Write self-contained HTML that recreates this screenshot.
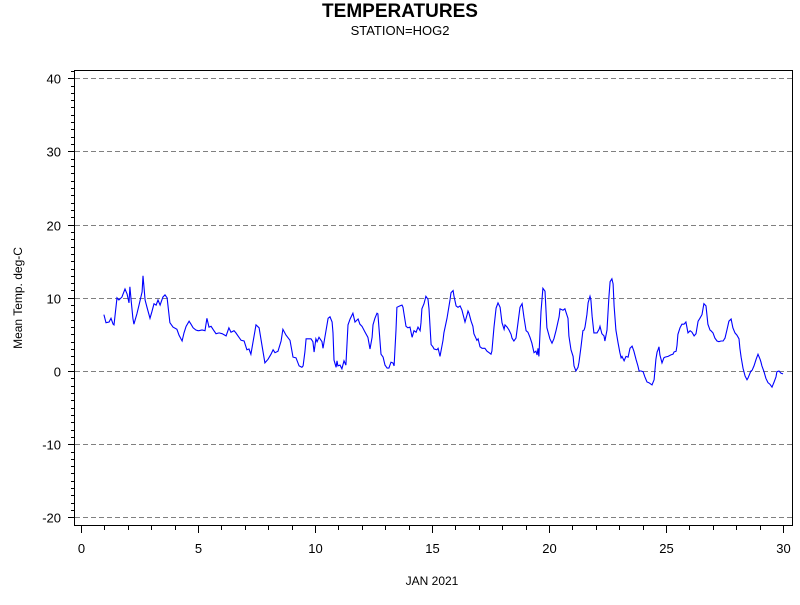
<!DOCTYPE html>
<html><head><meta charset="utf-8"><style>
body{margin:0;background:#fff;font-family:"Liberation Sans",sans-serif}
</style></head><body>
<svg id="chart" width="800" height="600" xmlns="http://www.w3.org/2000/svg">
<rect width="800" height="600" fill="#fff"/>
<text x="400" y="17" text-anchor="middle" font-size="19" font-weight="bold" font-family="Liberation Sans">TEMPERATURES</text>
<text x="400" y="35" text-anchor="middle" font-size="13" font-family="Liberation Sans">STATION=HOG2</text>
<text transform="translate(22,298) rotate(-90)" text-anchor="middle" font-size="12" font-family="Liberation Sans">Mean Temp. deg-C</text>
<text x="432" y="585" text-anchor="middle" font-size="12" font-family="Liberation Sans">JAN 2021</text>
<g id="grid"></g><g id="axes"></g><g id="series"></g>
<rect x="74.5" y="70.5" width="718" height="455" fill="none" stroke="#000"/>
</svg>
<script>
const xTicks=[0,5,10,15,20,25,30];
const yTicks=[-20,-10,0,10,20,30,40];
const days=[0.98,1.07,1.20,1.28,1.37,1.41,1.54,1.62,1.75,1.88,1.97,2.05,2.09,2.14,2.22,2.26,2.39,2.48,2.61,2.65,2.74,2.82,2.95,3.03,3.12,3.21,3.29,3.38,3.50,3.59,3.68,3.80,3.93,4.10,4.19,4.32,4.40,4.49,4.62,4.70,4.79,4.91,5.00,5.04,5.17,5.30,5.38,5.47,5.56,5.64,5.77,5.90,6.03,6.20,6.32,6.41,6.54,6.62,6.71,6.84,6.97,7.09,7.18,7.26,7.48,7.61,7.74,7.86,7.99,8.12,8.21,8.29,8.42,8.55,8.63,8.76,8.93,9.06,9.19,9.32,9.44,9.49,9.57,9.62,9.74,9.83,9.91,9.96,10.04,10.09,10.17,10.30,10.34,10.47,10.56,10.64,10.73,10.77,10.81,10.90,10.94,10.98,11.07,11.15,11.24,11.32,11.41,11.50,11.62,11.71,11.84,11.92,12.01,12.14,12.26,12.35,12.44,12.48,12.56,12.65,12.69,12.82,12.91,12.99,13.08,13.16,13.25,13.33,13.38,13.46,13.50,13.63,13.72,13.76,13.80,13.89,13.97,14.06,14.15,14.23,14.32,14.40,14.49,14.53,14.57,14.66,14.74,14.83,14.87,14.96,15.04,15.09,15.21,15.26,15.34,15.47,15.51,15.64,15.77,15.81,15.90,15.94,16.03,16.11,16.20,16.28,16.32,16.41,16.50,16.54,16.58,16.67,16.75,16.79,16.92,16.97,17.05,17.14,17.26,17.35,17.44,17.52,17.56,17.65,17.74,17.82,17.91,17.99,18.08,18.12,18.21,18.29,18.38,18.42,18.50,18.59,18.68,18.76,18.85,18.93,19.02,19.10,19.19,19.27,19.36,19.44,19.49,19.53,19.57,19.66,19.74,19.83,19.91,20.04,20.13,20.21,20.30,20.43,20.47,20.60,20.68,20.81,20.85,20.94,21.03,21.07,21.15,21.24,21.28,21.37,21.45,21.50,21.54,21.62,21.67,21.75,21.79,21.84,21.92,22.01,22.05,22.14,22.18,22.26,22.35,22.39,22.48,22.56,22.61,22.69,22.74,22.78,22.86,22.95,23.03,23.08,23.12,23.21,23.29,23.38,23.46,23.55,23.63,23.72,23.80,23.85,23.93,24.02,24.10,24.19,24.27,24.36,24.40,24.49,24.57,24.62,24.66,24.70,24.74,24.83,24.91,24.96,25.09,25.21,25.30,25.34,25.43,25.47,25.51,25.60,25.68,25.77,25.85,25.94,26.03,26.11,26.20,26.28,26.37,26.45,26.54,26.58,26.62,26.71,26.79,26.88,26.92,27.01,27.09,27.18,27.26,27.35,27.44,27.52,27.61,27.69,27.78,27.86,27.95,28.03,28.12,28.16,28.21,28.29,28.38,28.46,28.50,28.63,28.68,28.76,28.85,28.93,29.02,29.06,29.10,29.19,29.27,29.36,29.44,29.53,29.57,29.62,29.70,29.74,29.83,29.91,30.00];
const temps=[7.7,6.6,6.7,7.2,6.4,6.3,10.0,9.7,10.1,11.2,10.5,9.3,11.5,9.7,7.2,6.4,7.8,9.0,10.8,13.0,9.7,8.7,7.2,8.1,9.2,9.0,9.7,9.0,10.1,10.4,10.0,6.6,6.0,5.7,4.9,4.1,5.2,6.1,6.8,6.4,5.9,5.6,5.5,5.5,5.6,5.5,7.2,6.0,6.1,5.7,5.1,5.2,5.1,4.8,5.9,5.3,5.5,5.2,4.8,4.2,4.1,2.9,3.0,2.3,6.3,5.9,3.4,1.1,1.6,2.3,2.9,2.5,2.7,4.1,5.7,4.9,4.2,1.9,1.8,0.7,0.5,0.7,2.6,4.4,4.4,4.4,4.0,2.6,4.4,4.0,4.6,4.0,3.1,5.5,7.2,7.4,6.7,5.2,1.5,0.5,1.4,0.7,0.8,0.3,1.4,0.8,6.3,7.1,7.9,6.7,7.1,6.4,6.1,5.3,4.6,3.0,4.6,6.3,7.2,7.9,7.8,2.3,1.9,0.8,0.4,0.4,1.2,1.1,0.7,5.6,8.7,8.9,9.0,8.7,7.9,6.1,5.9,6.0,4.6,5.5,5.3,6.0,5.5,6.6,8.5,9.2,10.2,9.8,8.5,3.6,3.3,3.0,2.9,3.1,2.0,4.2,5.2,7.2,9.7,10.7,11.0,10.2,8.9,8.7,8.9,8.3,7.8,6.7,7.7,8.2,7.9,6.8,6.1,5.1,4.2,4.4,3.3,3.1,3.1,2.7,2.5,2.3,2.7,6.0,8.6,9.3,8.7,6.6,5.7,6.3,6.0,5.6,5.0,4.5,4.1,4.5,6.7,8.7,9.2,7.3,5.5,5.3,4.6,3.8,2.5,2.7,2.2,3.1,2.0,8.1,11.3,10.9,5.9,4.4,3.8,4.4,5.5,7.4,8.5,8.3,8.5,7.2,4.8,2.9,2.0,0.7,0.0,0.5,1.2,3.4,5.5,5.6,6.0,7.7,9.3,10.2,9.7,7.5,5.2,5.2,5.2,5.7,6.1,5.1,4.8,4.1,5.6,10.1,12.2,12.6,11.9,8.9,5.6,3.9,2.5,1.8,2.0,1.4,2.0,1.9,3.1,3.4,2.7,1.6,0.7,0.0,0.0,-0.1,-0.8,-1.5,-1.6,-1.8,-1.9,-1.2,1.6,2.6,2.9,3.3,2.2,1.1,1.8,1.9,2.0,2.2,2.3,2.6,2.7,3.5,5.0,5.9,6.4,6.4,6.7,5.2,5.5,5.3,4.8,5.1,6.8,7.2,7.7,8.5,9.2,8.9,6.4,5.6,5.5,5.2,4.5,4.1,4.0,4.1,4.1,4.5,5.7,6.8,7.1,5.9,5.2,4.9,4.4,3.1,1.9,0.4,-0.7,-1.2,-1.0,0.0,0.1,0.7,1.6,2.3,1.6,1.2,0.7,-0.1,-1.0,-1.6,-1.8,-2.2,-1.9,-1.5,-0.8,-0.1,0.0,-0.3,-0.4,-1.0];
const NS='http://www.w3.org/2000/svg';
const X=d=>81+d*23.4;
const Y=t=>371-t*7.32;
function mk(tag,attrs,parent){const e=document.createElementNS(NS,tag);for(const k in attrs)e.setAttribute(k,attrs[k]);parent.appendChild(e);return e;}
const grid=document.getElementById('grid'),axes=document.getElementById('axes'),series=document.getElementById('series');
yTicks.forEach(v=>{
  const y=Math.round(Y(v))+0.5;
  const g=mk('line',{x1:75,x2:792,y1:y,y2:y,stroke:'#808080','stroke-dasharray':'5,3'},grid);
  
  
  const t=mk('line',{x1:68,x2:74,y1:y,y2:y,stroke:'#000'},axes);
  
  
  const l=mk('text',{x:61,y:y+5,'text-anchor':'end','font-size':13,'font-family':'Liberation Sans'},axes);
  l.textContent=v;
  
  
});
for(let v=-21;v<=41;v++){if(v%10===0)continue;const y=Math.round(Y(v))+0.5;if(y<71||y>525)continue;
  const m=mk('line',{x1:71,x2:74,y1:y,y2:y,stroke:'#000'},axes);
  
  }
for(let d=0;d<=30;d++){const x=Math.round(X(d))+0.5;const major=xTicks.includes(d);
  const t=mk('line',{x1:x,x2:x,y1:526,y2:major?533:530,stroke:'#000'},axes);
  
  
  if(major){const l=mk('text',{x:x,y:553,'text-anchor':'middle','font-size':13,'font-family':'Liberation Sans'},axes);
    l.textContent=d;
    
    }}
const pts=days.map((d,i)=>X(d).toFixed(1)+','+Y(temps[i]).toFixed(1)).join(' ');
const line=mk('polyline',{points:pts,fill:'none',stroke:'#0000ff','stroke-width':1.1},series);


</script>
</body></html>
